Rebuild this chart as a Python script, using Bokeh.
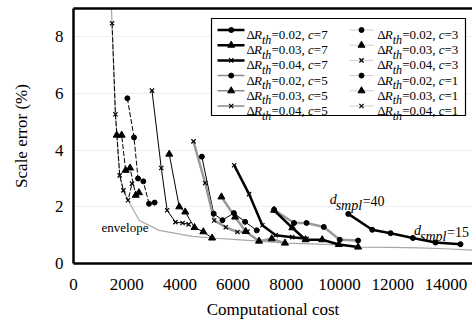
from bokeh.plotting import figure
from bokeh.models import Range1d, LinearAxis, Label, FixedTicker
from bokeh.embed import file_html
from bokeh.resources import INLINE

# ---- data: computational cost vs. scale error (%), d_smpl = 40 ... 15 along each curve
cost_r02_c7 = [10330, 11230, 11920, 12760, 13610, 14550]
err_r02_c7 = [1.75, 1.19, 1.07, 0.90, 0.74, 0.68]
cost_r03_c7 = [7540, 8225, 8725, 9350, 9975, 10700]
err_r03_c7 = [1.88, 1.26, 0.84, 0.84, 0.67, 0.58]
cost_r04_c7 = [6040, 6600, 7100, 7600, 8225, 8760]
err_r04_c7 = [3.47, 2.45, 1.35, 1.00, 0.93, 0.87]

cost_r02_c5 = [7540, 8290, 8760, 9410, 10010, 10700]
err_r02_c5 = [1.90, 1.43, 1.43, 1.29, 0.84, 0.81]
cost_r03_c5 = [5560, 6075, 6475, 6975, 7450, 7950]
err_r03_c5 = [2.35, 1.64, 1.13, 0.79, 0.87, 0.72]
cost_r04_c5 = [4510, 4950, 5290, 5725, 6160, 6540]
err_r04_c5 = [4.31, 2.84, 1.52, 1.28, 1.11, 1.13]

cost_r02_c3 = [4825, 5270, 5600, 6030, 6450, 6890]
err_r02_c3 = [3.77, 1.76, 1.53, 1.78, 1.47, 1.17]
cost_r03_c3 = [3600, 3975, 4200, 4550, 4880, 5210]
err_r03_c3 = [3.86, 2.00, 1.82, 1.27, 1.12, 0.90]
cost_r04_c3 = [2950, 3300, 3520, 3830, 4100, 4330]
err_r04_c3 = [6.10, 3.37, 1.88, 1.46, 1.43, 1.38]

cost_r02_c1 = [2025, 2275, 2425, 2625, 2840, 3050]
err_r02_c1 = [5.83, 4.45, 3.00, 2.90, 2.11, 2.15]
cost_r03_c1 = [1625, 1810, 1960, 2125, 2340, 2460]
err_r03_c1 = [4.53, 4.53, 3.29, 3.37, 2.41, 2.50]
cost_r04_c1 = [1450, 1576, 1737, 1875, 2050, 2200]
err_r04_c1 = [8.48, 5.27, 3.11, 2.58, 2.23, 2.82]

envelope_cost = [1410, 1450, 1576, 1737, 1875, 2050, 2475, 3225, 4460, 5210,
                 6000, 6975, 7950, 8900, 9975, 10700, 12000, 13000, 14000, 15000]
envelope_err = [9.3, 8.48, 5.27, 3.11, 2.58, 2.23, 1.52, 1.17, 0.96, 0.90,
                0.85, 0.79, 0.72, 0.69, 0.66, 0.58, 0.57, 0.55, 0.52, 0.47]

x_ticks = [0, 2000, 4000, 6000, 8000, 10000, 12000, 14000]
y_ticks = [0, 2, 4, 6, 8]
thresholds = ["0.02", "0.03", "0.04"]

series = {
    ("0.02", 7): (cost_r02_c7, err_r02_c7), ("0.03", 7): (cost_r03_c7, err_r03_c7),
    ("0.04", 7): (cost_r04_c7, err_r04_c7), ("0.02", 5): (cost_r02_c5, err_r02_c5),
    ("0.03", 5): (cost_r03_c5, err_r03_c5), ("0.04", 5): (cost_r04_c5, err_r04_c5),
    ("0.02", 3): (cost_r02_c3, err_r02_c3), ("0.03", 3): (cost_r03_c3, err_r03_c3),
    ("0.04", 3): (cost_r04_c3, err_r04_c3), ("0.02", 1): (cost_r02_c1, err_r02_c1),
    ("0.03", 1): (cost_r03_c1, err_r03_c1), ("0.04", 1): (cost_r04_c1, err_r04_c1),
}

# ---- layout
W, H = 472, 323
LEFT, TOP, BOTTOM = 73, 8, 60
XMAX, YMAX = 15000, 9
FW, FH = W - LEFT, H - TOP - BOTTOM
SERIF = "Liberation Serif"


def dx(px):
    """screen x (px) -> data x"""
    return (px - LEFT) / FW * XMAX


def dy(py):
    """screen y (px) -> data y"""
    return (TOP + FH - py) / FH * YMAX


line_style = {
    7: dict(line_color="black", line_width=2.5, line_dash="solid"),
    5: dict(line_color="#9a9a9a", line_width=2.5, line_dash="solid"),
    3: dict(line_color="black", line_width=1, line_dash="solid"),
    1: dict(line_color="black", line_width=1, line_dash="5 2"),
}
legend_line_style = {
    7: dict(line_color="black", line_width=2.5),
    5: dict(line_color="#8a8a8a", line_width=1.5),
    3: dict(line_color="#d0d0d0", line_width=1),
    1: dict(line_color="#d0d0d0", line_width=1),
}
marker_style = {
    "0.02": dict(marker="circle", size=5, line_width=1),
    "0.03": dict(marker="triangle", size=7, line_width=1),
    "0.04": dict(marker="x", size=6, line_width=1.2),
}

p = figure(width=W, height=H, output_backend="svg", toolbar_location=None,
           x_range=Range1d(0, XMAX), y_range=Range1d(0, YMAX),
           min_border_left=LEFT, min_border_right=0,
           min_border_top=TOP, min_border_bottom=BOTTOM,
           background_fill_color="white", border_fill_color="white")
p.outline_line_color = None
p.xgrid.visible = False
p.ygrid.ticker = FixedTicker(ticks=y_ticks)
p.ygrid.grid_line_color = "#efefef"

for ax, ticks in ((p.xaxis[0], x_ticks), (p.yaxis[0], y_ticks)):
    ax.ticker = FixedTicker(ticks=ticks)
    ax.axis_line_width = 2.5
    ax.axis_line_color = "black"
    ax.major_tick_out = 0
    ax.major_tick_in = 0
    ax.minor_tick_out = 0
    ax.minor_tick_in = 0
    ax.major_label_text_font = SERIF
    ax.major_label_text_font_size = "17px"
    ax.major_label_text_color = "black"
    ax.axis_label_text_font = SERIF
    ax.axis_label_text_font_size = "17px"
    ax.axis_label_text_font_style = "normal"
    ax.axis_label_text_color = "black"
p.xaxis.axis_label = "Computational cost"
p.yaxis.axis_label = "Scale error (%)"
p.xaxis.major_label_standoff = 15
p.xaxis.axis_label_standoff = 7
p.yaxis.major_label_standoff = 10
p.yaxis.axis_label_standoff = 21
p.xaxis.formatter.use_scientific = False

# top frame edge
top_axis = LinearAxis(ticker=FixedTicker(ticks=[]), axis_line_width=2.5,
                      axis_line_color="black", major_tick_out=0, major_tick_in=0,
                      minor_tick_out=0, minor_tick_in=0)
p.add_layout(top_axis, "above")

# envelope of all curves
p.line(envelope_cost, envelope_err, line_color="#a8a8a8", line_width=1.2)

# curves: lines first, markers on top
for c in (1, 3, 5, 7):
    for r in thresholds:
        xs, ys = series[(r, c)]
        p.line(xs, ys, **line_style[c])
for c in (1, 3, 5, 7):
    for r in thresholds:
        xs, ys = series[(r, c)]
        p.scatter(xs, ys, fill_color="black", line_color="black", **marker_style[r])


def rich_text(x, y, pieces):
    for text, style, ox, oy, size in pieces:
        p.add_layout(Label(x=x, y=y, x_offset=ox, y_offset=oy, text=text,
                           text_font=SERIF, text_font_style=style,
                           text_font_size=f"{size}px", text_color="black",
                           text_baseline="alphabetic", text_align="left"))


# ---- legend
p.quad(left=[dx(211)], right=[dx(465)], top=[dy(18)], bottom=[dy(115)],
       fill_color="white", line_color="black", line_width=1.2)

columns = [
    dict(line=(217, 244), mark=230.7, text=246, entries=[("0.02", 7), ("0.03", 7), ("0.04", 7),
                                                         ("0.02", 5), ("0.03", 5), ("0.04", 5)]),
    dict(line=(349, 373), mark=361, text=376.7, entries=[("0.02", 3), ("0.03", 3), ("0.04", 3),
                                                        ("0.02", 1), ("0.03", 1), ("0.04", 1)]),
]
for col in columns:
    for i, (r, c) in enumerate(col["entries"]):
        ym = 29.5 + 15.2 * i
        p.line([dx(col["line"][0]), dx(col["line"][1])], [dy(ym), dy(ym)],
               **legend_line_style[c])
        p.scatter([dx(col["mark"])], [dy(ym)], fill_color="black", line_color="black",
                  **marker_style[r])
        rich_text(dx(col["text"]), dy(ym + 4.5), [
            ("\u0394", "normal", 0, 0, 13),
            ("R", "italic", 7.5, 0, 13),
            ("th", "italic", 15.5, -5, 12),
            (f"={r},", "normal", 25, 0, 13),
            ("c", "italic", 61.5, 0, 13),
            (f"={c}", "normal", 67.3, 0, 13),
        ])

# ---- annotations
rich_text(9630, 2.25, [("d", "italic", 0, 0, 14), ("smpl", "italic", 6, -6, 14),
                       ("=40", "normal", 33, -2, 14)])
rich_text(12800, 1.165, [("d", "italic", 0, 0, 14), ("smpl", "italic", 6, -6, 14),
                         ("=15", "normal", 33, -2, 14)])
p.add_layout(Label(x=1053, y=1.27, text="envelope", text_font=SERIF,
                   text_font_size="13px", text_color="black",
                   text_baseline="alphabetic", text_align="left"))

open("out.html", "w").write(file_html(p, INLINE))
